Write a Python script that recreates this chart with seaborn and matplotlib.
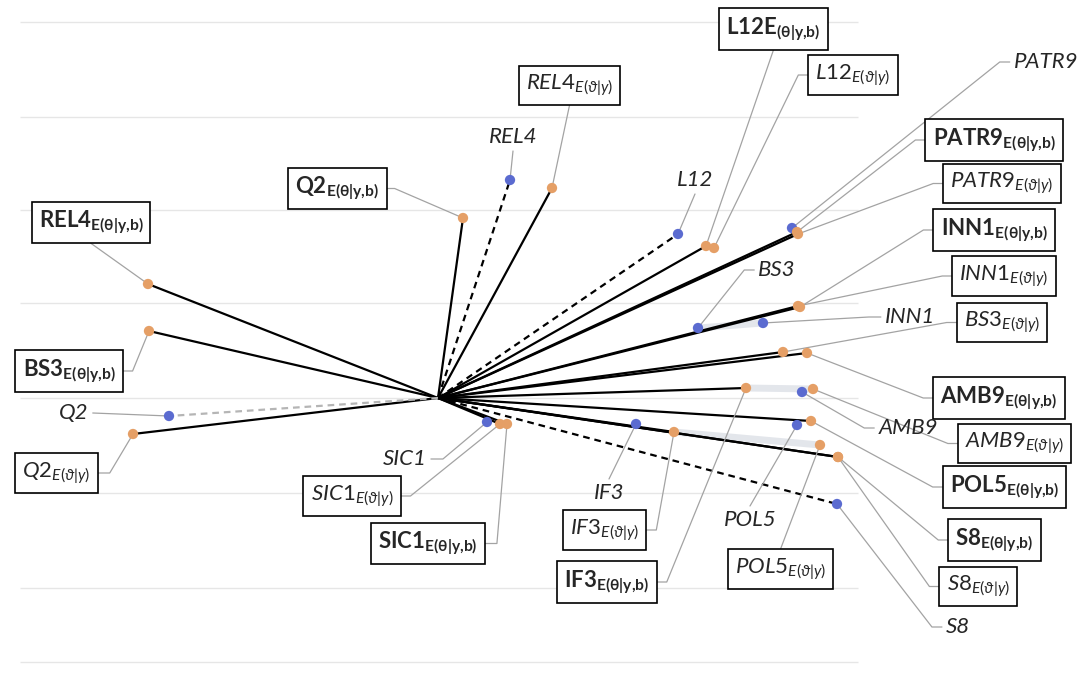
import pandas as pd
import seaborn as sns
import matplotlib.pyplot as plt

# items and their loadings on the two axes
items = ["REL4", "BS3", "Q2", "L12", "PATR9", "INN1", "AMB9", "IF3", "POL5", "S8", "SIC1"]

# observed (blue)
obs_x = [0.72, 2.60, -2.69, 2.40, 3.54, 3.25, 3.64, 1.98, 3.59, 3.99, 0.49]
obs_y = [2.18, 0.70, -0.18, 1.64, 1.70, 0.75, 0.06, -0.26, -0.27, -1.06, -0.24]

# E(theta|y,b)
bias_x = [-2.90, -2.89, 0.25, 2.68, 3.59, 3.62, 3.69, 3.08, 3.73, 4.00, 0.69]
bias_y = [1.14, 0.67, 1.80, 1.52, 1.66, 0.91, 0.45, 0.10, -0.23, -0.59, -0.26]

# E(vartheta|y)
post_x = [1.14, 3.45, -3.05, 2.76, 3.60, 3.60, 3.75, 2.36, 3.82, 4.00, 0.62]
post_y = [2.10, 0.46, -0.36, 1.50, 1.64, 0.92, 0.09, -0.34, -0.47, -0.59, -0.26]

dashed_items = ["REL4", "L12", "Q2", "S8"]
post_no_line = ["AMB9", "POL5", "L12"]
bands = [("IF3", "bias", "AMB9", "post"), ("IF3", "post", "POL5", "post"),
         ("BS3", "obs", "INN1", "obs")]

sns.set_theme(style="white")
plt.rcParams["font.family"] = ["Lato", "DejaVu Sans"]
plt.rcParams["mathtext.fontset"] = "custom"
plt.rcParams["mathtext.rm"] = "Lato"
plt.rcParams["mathtext.it"] = "Lato:italic"
plt.rcParams["mathtext.bf"] = "Lato:bold"
plt.rcParams["mathtext.fallback"] = "stixsans"

df = pd.concat([
    pd.DataFrame({"item": items, "x": obs_x, "y": obs_y, "series": "obs"}),
    pd.DataFrame({"item": items, "x": bias_x, "y": bias_y, "series": "bias"}),
    pd.DataFrame({"item": items, "x": post_x, "y": post_y, "series": "post"}),
], ignore_index=True)
pos = {(r.item, r.series): (r.x, r.y) for r in df.itertuples()}

fig = plt.figure(figsize=(10.84, 6.82), dpi=100)
ax = fig.add_axes([0, 0, 1, 1])
ax.set_xlim(-4.38, 6.46)
ax.set_ylim(-2.84, 3.98)
ax.axis("off")

# faint background rules
ax.hlines([3.76, 2.81, 1.88, 0.95, 0.0, -0.95, -1.90, -2.64], -4.18, 4.20,
          color="#e6e6e6", lw=1, zorder=0)

# grey shading between neighbouring estimates
for a, sa, b, sb in bands:
    (x1, y1), (x2, y2) = pos[(a, sa)], pos[(b, sb)]
    ax.plot([x1, x2], [y1, y2], color="#cdd2dc", lw=5, alpha=0.55,
            solid_capstyle="round", zorder=1)

# solid lines from origin
for it in items:
    x, y = pos[(it, "bias")]
    ax.plot([0, x], [0, y], color="black", lw=1.6, zorder=2)
    if it not in post_no_line:
        x, y = pos[(it, "post")]
        ax.plot([0, x], [0, y], color="black", lw=1.6, zorder=2)
for it in dashed_items:
    x, y = pos[(it, "obs")]
    col = "#b5b5b5" if it == "Q2" else "black"
    ax.plot([0, x], [0, y], color=col, lw=1.6, ls=(0, (3, 2.2)), zorder=2)

sns.scatterplot(data=df, x="x", y="y", hue="series", ax=ax, s=55, linewidth=0,
                palette={"obs": "#5b6bd0", "bias": "#e59f66", "post": "#e59f66"},
                legend=False, zorder=4)


def bold(a, b):
    return r"$\mathbf{%s}_{\mathbf{%s}}$" % (a, b)


def ital(a, b):
    return r"$\mathit{%s}_{\mathit{%s}}$" % (a, b)


TH = r"E(\theta|y{,}b)"
VT = r"E(\vartheta|y)"
# (text, item, series, center x, center y, boxed, leader side, stub)
labels = [
    (bold("REL4", TH), "REL4", "bias", -3.47, 1.755, True, "bottom", 0),
    (bold("BS3", TH), "BS3", "bias", -3.69, 0.27, True, "right", 0.10),
    (ital("Q2", VT), "Q2", "post", -3.815, -0.75, True, "right", 0.12),
    (bold("Q2", TH), "Q2", "bias", -1.005, 2.095, True, "right", 0.08),
    ("Q2", "Q2", "obs", -3.64, -0.15, False, "right", 0),
    ("SIC1", "SIC1", "obs", -0.33, -0.61, False, "right", 0.12),
    (ital("SIC1", VT), "SIC1", "post", -0.86, -0.98, True, "right", 0.10),
    (bold("SIC1", TH), "SIC1", "bias", -0.10, -1.455, True, "right", 0.12),
    ("IF3", "IF3", "obs", 1.71, -0.95, False, "top", 0),
    (ital("IF3", VT), "IF3", "post", 1.665, -1.32, True, "right", 0.10),
    (bold("IF3", TH), "IF3", "bias", 1.69, -1.84, True, "right", 0.10),
    ("POL5", "POL5", "obs", 3.12, -1.22, False, "top", 0),
    (ital("POL5", VT), "POL5", "post", 3.425, -1.71, True, "top", 0),
    ("REL4", "REL4", "obs", 0.75, 2.61, False, "bottom", 0),
    (ital("REL4", VT), "REL4", "post", 1.315, 3.125, True, "bottom", 0),
    ("L12", "L12", "obs", 2.57, 2.18, False, "bottom", 0),
    (r"$\mathbf{L12E}_{\mathbf{(\theta|y{,}b)}}$", "L12", "bias", 3.355, 3.69, True, "bottom", 0),
    (ital("L12", VT), "L12", "post", 4.15, 3.23, True, "left", 0.10),
    ("PATR9", "PATR9", "obs", 6.08, 3.36, False, "left", 0.10),
    (bold("PATR9", TH), "PATR9", "bias", 5.56, 2.58, True, "left", 0.10),
    (ital("PATR9", VT), "PATR9", "post", 5.64, 2.145, True, "left", 0.10),
    (bold("INN1", TH), "INN1", "bias", 5.56, 1.68, True, "left", 0.10),
    (ital("INN1", VT), "INN1", "post", 5.66, 1.22, True, "left", 0.10),
    ("INN1", "INN1", "obs", 4.72, 0.81, False, "left", 0.12),
    ("BS3", "BS3", "obs", 3.39, 1.28, False, "left", 0.10),
    (ital("BS3", VT), "BS3", "post", 5.64, 0.755, True, "left", 0.10),
    (bold("AMB9", TH), "AMB9", "bias", 5.61, 0.0, True, "left", 0.10),
    ("AMB9", "AMB9", "obs", 4.70, -0.30, False, "left", 0.10),
    (ital("AMB9", VT), "AMB9", "post", 5.765, -0.455, True, "left", 0.10),
    (bold("POL5", TH), "POL5", "bias", 5.665, -0.89, True, "left", 0.10),
    (bold("S8", TH), "S8", "bias", 5.565, -1.42, True, "left", 0.10),
    (ital("S8", VT), "S8", "post", 5.40, -1.885, True, "left", 0.10),
    ("S8", "S8", "obs", 5.20, -2.29, False, "left", 0.10),
]

texts = []
for txt, it, ser, cx, cy, boxed, side, stub in labels:
    kw = dict(ha="center", va="center", fontsize=16, zorder=5)
    if boxed:
        kw["bbox"] = dict(boxstyle="square,pad=0.32", fc="white", ec="black", lw=1.2)
    else:
        kw["fontstyle"] = "italic"
    texts.append(ax.text(cx, cy, txt, **kw))

# leader lines from label edge to its point
fig.canvas.draw()
inv = ax.transData.inverted()
for t, (txt, it, ser, cx, cy, boxed, side, stub) in zip(texts, labels):
    ext = t.get_bbox_patch().get_window_extent() if boxed else t.get_window_extent()
    (x0, y0), (x1, y1) = inv.transform([[ext.x0, ext.y0], [ext.x1, ext.y1]])
    gap = 0 if boxed else 0.04
    ym = (y0 + y1) / 2
    if side == "left":
        path = [(x0 - gap, ym), (x0 - gap - stub, ym)]
    elif side == "right":
        path = [(x1 + gap, ym), (x1 + gap + stub, ym)]
    elif side == "top":
        path = [(cx, y1 + gap)]
    else:
        path = [(cx, y0 - gap)]
    path.append(pos[(it, ser)])
    xs, ys = zip(*path)
    ax.plot(xs, ys, color="#a3a3a3", lw=0.9, zorder=3)

fig.savefig("out.png", dpi=100)
